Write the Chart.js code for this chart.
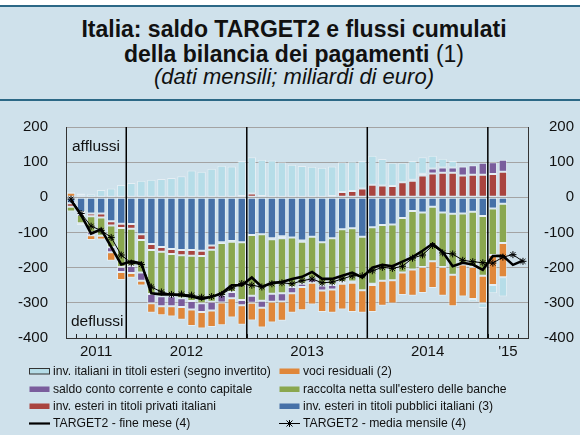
<!DOCTYPE html>
<html>
<head>
<meta charset="utf-8">
<script src="https://cdn.jsdelivr.net/npm/chart.js@4.4.1/dist/chart.umd.min.js"></script>
<style>
  html, body { margin: 0; padding: 0; }
  body {
    width: 580px; height: 435px; position: relative; overflow: hidden;
    background: #cfe1eb; color: #111;
    font-family: "Liberation Sans", Arial, sans-serif;
  }
  .strip { position: absolute; left: 0; top: 0; width: 580px; height: 5px; background: #fff; }
  .rule { position: absolute; left: 0; width: 580px; height: 2px; background: #2c6886; }
  .title { position: absolute; left: 4px; width: 580px; text-align: center; white-space: nowrap; }
  .t1 { top: 18px; font-size: 23px; line-height: 23px; font-weight: bold; }
  .t2 { top: 43px; font-size: 23px; line-height: 23px; font-weight: bold; }
  .t2 span { font-weight: normal; }
  .t3 { top: 66px; font-size: 22px; line-height: 22px; font-style: italic; }
  #chart { position: absolute; left: 0; top: 100px; }
  .leg { position: absolute; font-size: 12.2px; line-height: 14px; white-space: nowrap; }
  .leg svg { position: absolute; left: -26px; top: 0; }
</style>
</head>
<body>
<div class="strip"></div>
<div class="rule" style="top:5px"></div>
<div class="title t1">Italia: saldo TARGET2 e flussi cumulati</div>
<div class="title t2">della bilancia dei pagamenti <span>(1)</span></div>
<div class="title t3">(dati mensili; miliardi di euro)</div>
<div class="rule" style="top:99px"></div>

<canvas id="chart" width="580" height="265"></canvas>

<div id="legend"></div>

<script>
// months from Jul 2011 to Apr 2015
const months = [
  '07/11', '08/11', '09/11', '10/11', '11/11', '12/11',
  '01/12', '02/12', '03/12', '04/12', '05/12', '06/12', '07/12', '08/12', '09/12', '10/12', '11/12', '12/12',
  '01/13', '02/13', '03/13', '04/13', '05/13', '06/13', '07/13', '08/13', '09/13', '10/13', '11/13', '12/13',
  '01/14', '02/14', '03/14', '04/14', '05/14', '06/14', '07/14', '08/14', '09/14', '10/14', '11/14', '12/14',
  '01/15', '02/15', '03/15', '04/15'
];
const yearLabels = ['2011', '2012', '2013', '2014', "'15"];

// cumulated flows (bars, Jul 2011 - Feb 2015)
const titoliPubblici = [-17, -42, -46, -46, -68, -75, -76, -105, -133, -141, -147, -150, -150, -152, -137, -128, -124, -128, -107, -105, -116, -111, -114, -123, -112, -128, -116, -91, -88, -112, -85, -79, -77, -59, -39, -43, -27, -43, -47, -46, -41, -53, -32, -18];
const titoliPrivati = [-10, -8, -8, -11, -12, -12, -13, -16, -17, -14, -14, -15, -16, -15, -12, -2, -2, 4, 11, 4, -3, -5, 0, -3, 0, 0, 4, 15, 18, 25, 36, 34, 32, 43, 47, 62, 68, 70, 70, 62, 64, 64, 66, 73];
const raccoltaBanche = [-13, -24, -45, -52, -62, -111, -106, -93, -125, -126, -120, -122, -129, -134, -148, -148, -143, -164, -173, -189, -155, -157, -141, -120, -120, -123, -133, -150, -151, -152, -161, -158, -159, -155, -166, -155, -155, -155, -173, -145, -157, -170, -132, -112];
const saldoCorrente = [0, -5, -9, 0, -14, -14, -20, -23, -26, -29, -29, -25, -24, -25, -25, -21, -18, -15, -20, -20, -23, -23, -18, -9, -11, -14, -13, -5, -4, 0, -3, 0, 0, 0, 3, 5, 14, 15, 15, 26, 27, 34, 34, 34];
const vociResiduali = [13, 5, -13, -11, -24, -23, -14, -14, -27, -25, -29, -36, -47, -47, -47, -65, -55, -55, -50, -56, -59, -55, -55, -66, -62, -61, -66, -73, -83, -64, -77, -71, -66, -64, -75, -74, -76, -82, -90, -91, -91, -78, -85, -97];
const italianiEsteri = [2, 6, 9, 21, 25, 35, 41, 47, 50, 52, 55, 60, 76, 73, 81, 90, 88, 99, 103, 103, 105, 100, 93, 89, 87, 84, 84, 85, 84, 78, 82, 75, 66, 55, 53, 47, 36, 25, 18, 2, -7, -14, -24, -55];

// TARGET2 balance (lines, Jul 2011 - Apr 2015)
const target2Fine = [-8, -50, -103, -91, -141, -191, -182, -188, -273, -276, -276, -278, -282, -289, -283, -273, -250, -250, -228, -255, -243, -241, -232, -226, -212, -232, -232, -223, -214, -228, -200, -192, -196, -183, -170, -152, -132, -155, -196, -186, -191, -206, -167, -166, -192, -180];
const target2Media = [-5, -46, -82, -94, -114, -164, -187, -191, -255, -269, -276, -275, -278, -284, -282, -276, -258, -245, -250, -255, -246, -243, -246, -237, -232, -243, -241, -232, -223, -223, -209, -199, -202, -196, -173, -164, -137, -158, -161, -179, -183, -186, -187, -170, -163, -182];

const yTicks = [200, 100, 0, -100, -200, -300, -400];

const colors = {
    lightblue: '#b6dde8',
    purple: '#7a5d9c',
    red: '#a9443f',
    green: '#8aa74f',
    blue: '#4671a8',
    orange: '#e0873a'
};

const FONT = '"Liberation Sans", Arial, sans-serif';
Chart.defaults.font.family = FONT;
Chart.defaults.color = '#111';

function barSet(label, data, color) {
    return {
        type: 'bar',
        label: label,
        data: data,
        backgroundColor: color,
        borderColor: 'rgba(255,255,255,0.45)',
        borderWidth: 1,
        borderSkipped: false,
        stack: 'flussi',
        order: 1,
        barPercentage: 0.84,
        categoryPercentage: 1
    };
}

// year separators, month ticks, year labels, afflussi/deflussi
const decorations = {
    id: 'decorations',
    afterDatasetsDraw(chart) {
        const ctx = chart.ctx;
        const x = chart.scales.x;
        const area = chart.chartArea;
        const bound = k => (x.getPixelForValue(k - 1) + x.getPixelForValue(k)) / 2;

        ctx.save();
        // month ticks inside the bottom edge
        ctx.strokeStyle = '#222';
        ctx.lineWidth = 1;
        for (let k = 1; k < months.length; k++) {
            const px = Math.round(bound(k)) + 0.5;
            ctx.beginPath();
            ctx.moveTo(px, area.bottom);
            ctx.lineTo(px, area.bottom - 4);
            ctx.stroke();
        }
        // year separators
        ctx.strokeStyle = '#000';
        ctx.lineWidth = 1.5;
        months.forEach((m, k) => {
            if (k > 0 && m.startsWith('01/')) {
                const px = bound(k);
                ctx.beginPath();
                ctx.moveTo(px, area.top);
                ctx.lineTo(px, area.bottom);
                ctx.stroke();
            }
        });
        // year labels centred under each year
        ctx.fillStyle = '#111';
        ctx.font = '15px ' + FONT;
        ctx.textAlign = 'center';
        ctx.textBaseline = 'middle';
        const years = [...new Set(months.map(m => m.slice(3)))];
        years.forEach((yy, i) => {
            const first = months.findIndex(m => m.slice(3) === yy);
            const last = months.length - 1 - [...months].reverse().findIndex(m => m.slice(3) === yy);
            const cx = (x.getPixelForValue(first) + x.getPixelForValue(last)) / 2;
            ctx.fillText(yearLabels[i], cx, area.bottom + 14);
        });
        // flow direction notes
        ctx.font = '15.5px ' + FONT;
        ctx.textAlign = 'left';
        ctx.fillText('afflussi', area.left + 6, area.top + 20);
        ctx.fillText('deflussi', area.left + 5, area.bottom - 16);
        ctx.restore();
    }
};

const ctx = document.getElementById('chart').getContext('2d');

new Chart(ctx, {
    data: {
        labels: months,
        datasets: [
            {
                type: 'line',
                label: 'TARGET2 - fine mese (4)',
                data: target2Fine,
                borderColor: '#000',
                borderWidth: 2.6,
                pointRadius: 0,
                tension: 0,
                stack: 'fine',
                order: 0
            },
            {
                type: 'line',
                label: 'TARGET2 - media mensile (4)',
                data: target2Media,
                borderColor: '#000',
                borderWidth: 1,
                pointStyle: 'star',
                pointRadius: 3.5,
                pointBorderColor: '#000',
                pointBorderWidth: 1,
                tension: 0,
                stack: 'media',
                order: 0
            },
            barSet('inv. esteri in titoli pubblici italiani (3)', titoliPubblici, colors.blue),
            barSet('inv. esteri in titoli privati italiani', titoliPrivati, colors.red),
            barSet("raccolta netta sull'estero delle banche", raccoltaBanche, colors.green),
            barSet('saldo conto corrente e conto capitale', saldoCorrente, colors.purple),
            barSet('voci residuali (2)', vociResiduali, colors.orange),
            barSet('inv. italiani in titoli esteri (segno invertito)', italianiEsteri, colors.lightblue)
        ]
    },
    options: {
        responsive: false,
        animation: false,
        devicePixelRatio: 1,
        layout: { padding: { top: 18.5, right: 6, left: 0, bottom: 0 } },
        plugins: {
            legend: { display: false },
            tooltip: { enabled: false }
        },
        scales: {
            x: {
                stacked: true,
                offset: true,
                grid: { display: false },
                border: { display: true, color: '#333', width: 1 },
                ticks: { display: false },
                afterFit: s => { s.height = 26.7; }
            },
            y: {
                position: 'left',
                stacked: true,
                min: -400,
                max: 200,
                afterBuildTicks: s => { s.ticks = yTicks.map(v => ({ value: v })); },
                grid: { color: '#a3a3a3', lineWidth: 1, drawTicks: false },
                border: { display: true, color: '#333', width: 1 },
                ticks: { padding: 18, font: { size: 15 }, color: '#111' },
                afterFit: s => { s.width = 66; }
            },
            y2: {
                position: 'right',
                min: -400,
                max: 200,
                afterBuildTicks: s => { s.ticks = yTicks.map(v => ({ value: v })); },
                grid: { drawOnChartArea: false, drawTicks: false },
                border: { display: true, color: '#333', width: 1 },
                ticks: { crossAlign: 'far', font: { size: 15 }, color: '#111' },
                afterFit: s => { s.width = 46; }
            }
        }
    },
    plugins: [decorations]
});

// legend laid out in two columns like the original
const legendItems = [
    { text: 'inv. italiani in titoli esteri (segno invertito)', kind: 'box', color: colors.lightblue, outline: true, col: 0, row: 0 },
    { text: 'voci residuali (2)', kind: 'box', color: colors.orange, col: 1, row: 0 },
    { text: 'saldo conto corrente e conto capitale', kind: 'box', color: colors.purple, col: 0, row: 1 },
    { text: "raccolta netta sull'estero delle banche", kind: 'box', color: colors.green, col: 1, row: 1 },
    { text: 'inv. esteri in titoli privati italiani', kind: 'box', color: colors.red, col: 0, row: 2 },
    { text: 'inv. esteri in titoli pubblici italiani (3)', kind: 'box', color: colors.blue, col: 1, row: 2 },
    { text: 'TARGET2 - fine mese (4)', kind: 'line', col: 0, row: 3 },
    { text: 'TARGET2 - media mensile (4)', kind: 'star', col: 1, row: 3 }
];
const legendCols = [53, 303];
const legendRows = [364, 381.5, 398.7, 415.7];

const legendEl = document.getElementById('legend');
legendItems.forEach(item => {
    const div = document.createElement('div');
    div.className = 'leg';
    div.style.left = legendCols[item.col] + 'px';
    div.style.top = legendRows[item.row] + 'px';
    let icon;
    if (item.kind === 'box') {
        const stroke = item.outline ? ' stroke="#333" stroke-width="1"' : '';
        icon = '<rect x="2.5" y="4.5" width="20" height="5.5" fill="' + item.color + '"' + stroke + '/>';
    } else if (item.kind === 'line') {
        icon = '<line x1="2" y1="7.5" x2="23" y2="7.5" stroke="#000" stroke-width="2.2"/>';
    } else {
        icon = '<line x1="2" y1="7.5" x2="23" y2="7.5" stroke="#000" stroke-width="1"/>' +
               '<path d="M9.5 4.5 L15.5 10.5 M15.5 4.5 L9.5 10.5 M12.5 4 L12.5 11" stroke="#000" stroke-width="1"/>';
    }
    div.innerHTML = '<svg width="25" height="15">' + icon + '</svg>' + item.text;
    legendEl.appendChild(div);
});
</script>
</body>
</html>
